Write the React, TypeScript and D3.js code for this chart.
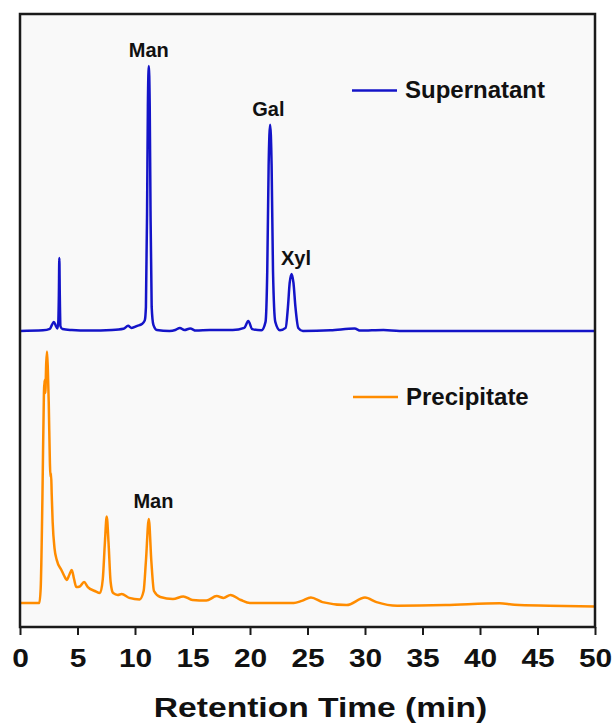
import React, { useRef, useEffect } from "react";
import * as d3 from "d3";

// retention time (min), intensity (a.u.)
const supernatant: [number, number][] = [
  [0, 0], [2.0, 0.2], [2.6, 0.7], [2.8, 2.2], [2.95, 3], [3.1, 1.8], [3.25, 0.8],
  [3.33, 3], [3.38, 12], [3.42, 24.3], [3.46, 12], [3.52, 1.5], [3.7, 0.6],
  [4.5, 0.3], [6, 0.1], [8, 0.3], [9, 0.7], [9.4, 1.7], [9.7, 1], [10.2, 1.7],
  [10.6, 2.3], [10.85, 3.5], [10.95, 8], [11.05, 40], [11.12, 75], [11.2, 88.3],
  [11.28, 75], [11.35, 40], [11.45, 8], [11.6, 2], [11.9, 0.3], [13, 0],
  [13.5, 0.3], [13.9, 1], [14.3, 0.3], [14.8, 0.8], [15.3, 0.1], [16.5, 0.3],
  [18.5, 0.3], [19.5, 1], [19.85, 3.3], [20.2, 0.6], [21.0, 0.2], [21.35, 3],
  [21.5, 20], [21.62, 55], [21.75, 68.7], [21.88, 55], [22.0, 20], [22.2, 3],
  [22.6, 0.2], [23.1, 1], [23.3, 8], [23.45, 16], [23.62, 19], [23.78, 16],
  [23.95, 8], [24.2, 1], [24.6, 0], [27, 0.2], [29.1, 0.8], [29.6, 0.1],
  [31.6, 0.3], [33, 0], [50, 0],
];

const precipitate: [number, number][] = [
  [0, 0], [1.68, 0], [1.8, 5], [1.95, 35], [2.08, 70], [2.13, 74.3], [2.2, 70],
  [2.28, 80], [2.35, 83.8], [2.42, 78], [2.5, 66.7], [2.6, 46.7], [2.65, 42],
  [2.7, 43.3], [2.76, 36], [2.84, 27], [3.0, 18.3], [3.2, 14.3], [3.6, 11],
  [3.85, 9], [4.06, 7.7], [4.3, 9.5], [4.5, 11], [4.7, 8], [4.9, 5.3],
  [5.2, 5.5], [5.57, 7], [5.9, 5.3], [6.5, 4], [6.96, 3.3], [7.2, 8],
  [7.38, 20], [7.54, 28.8], [7.7, 20], [7.88, 7], [8.1, 3.3], [8.5, 2.7],
  [8.84, 3], [9.5, 1.7], [10.4, 1.2], [10.75, 4], [10.95, 14], [11.2, 28],
  [11.42, 14], [11.65, 4], [12.2, 2], [13.3, 1.3], [14.2, 2.2], [15, 1],
  [16.2, 0.8], [17.1, 2.3], [17.7, 1.7], [18.3, 2.7], [19.2, 1], [20, 0],
  [23.8, 0], [24.5, 0.7], [25.3, 1.8], [26.3, 0.3], [28.4, -0.7], [30, 1.8],
  [31, 0.3], [32.8, -0.9], [37, -0.7], [41.7, -0.1], [43, -0.6], [46, -0.9],
  [50, -1.2],
];

// vertical stacking offset of the supernatant trace
const SUPER_OFFSET = 90.7;

const supernatantPeaks: [string, number, number][] = [
  ["Man", 11.2, 88.3],
  ["Gal", 21.6, 68.7],
  ["Xyl", 24.0, 19],
];
const precipitatePeaks: [string, number, number][] = [["Man", 11.6, 28.8]];

const seriesNames = ["Supernatant", "Precipitate"];
const seriesColors = ["#1414c8", "#ff8c00"];

const xTicks = d3.range(0, 51, 5);
const xMinorTicks = d3.range(2.5, 50, 5);

const App = () => {
  const svgRef = useRef<SVGSVGElement>(null);

  useEffect(() => {
    const width = 614;
    const height = 723;
    const margin = { top: 14, right: 19, bottom: 96, left: 20 };
    const plotW = width - margin.left - margin.right;
    const plotH = height - margin.top - margin.bottom;

    const svg = d3.select(svgRef.current);
    svg.selectAll("*").remove();
    svg.attr("width", width).attr("height", height);

    const x = d3.scaleLinear().domain([0, 50]).range([margin.left, margin.left + plotW]);
    const y = d3.scaleLinear().domain([-8, 196.33]).range([margin.top + plotH, margin.top]);

    svg.append("defs").append("clipPath").attr("id", "plotclip")
      .append("rect")
      .attr("x", margin.left).attr("y", margin.top)
      .attr("width", plotW).attr("height", plotH);

    svg.append("rect")
      .attr("x", margin.left).attr("y", margin.top)
      .attr("width", plotW).attr("height", plotH)
      .attr("fill", "#f9f9f9");

    const line = d3.line<[number, number]>()
      .x(d => x(d[0]))
      .y(d => y(d[1]))
      .curve(d3.curveMonotoneX);

    const traces = svg.append("g").attr("clip-path", "url(#plotclip)");
    traces.append("path")
      .datum(supernatant.map(d => [d[0], d[1] + SUPER_OFFSET] as [number, number]))
      .attr("d", line)
      .attr("fill", "none")
      .attr("stroke", seriesColors[0])
      .attr("stroke-width", 2.5)
      .attr("stroke-linejoin", "round");
    traces.append("path")
      .datum(precipitate)
      .attr("d", line)
      .attr("fill", "none")
      .attr("stroke", seriesColors[1])
      .attr("stroke-width", 2.5)
      .attr("stroke-linejoin", "round");

    // peak labels
    const labelFont = "'Liberation Sans', Arial, sans-serif";
    const addLabel = (txt: string, t: number, v: number) => {
      svg.append("text")
        .attr("x", x(t)).attr("y", y(v) - 9)
        .attr("text-anchor", "middle")
        .attr("font-family", labelFont)
        .attr("font-weight", "bold")
        .attr("font-size", 20)
        .attr("fill", "#111")
        .text(txt);
    };
    supernatantPeaks.forEach(([n, t, v]) => addLabel(n, t, v + SUPER_OFFSET));
    precipitatePeaks.forEach(([n, t, v]) => addLabel(n, t, v));

    // legends
    const legendPos = [[352, 90.5], [353, 397]];
    seriesNames.forEach((name, i) => {
      const [lx, ly] = legendPos[i];
      svg.append("line")
        .attr("x1", lx).attr("x2", lx + 45)
        .attr("y1", ly).attr("y2", ly)
        .attr("stroke", seriesColors[i])
        .attr("stroke-width", 2.5);
      svg.append("text")
        .attr("x", lx + 53).attr("y", ly + 7.5)
        .attr("font-family", labelFont)
        .attr("font-weight", "bold")
        .attr("font-size", 24)
        .attr("fill", "#111")
        .text(name);
    });

    // bottom axis
    const axisY = margin.top + plotH;
    const axis = svg.append("g").attr("transform", `translate(0,${axisY})`);
    axis.call(d3.axisBottom(x).tickValues(xMinorTicks).tickSize(5).tickFormat(() => ""));
    axis.call(d3.axisBottom(x).tickValues(xTicks).tickSize(8).tickFormat(d3.format("d")));
    axis.select(".domain").remove();
    axis.selectAll("line").attr("stroke", "#1a1a1a").attr("stroke-width", 2);
    axis.selectAll("text")
      .attr("y", 40)
      .attr("dy", null)
      .attr("transform", "scale(1.15,1)")
      .attr("font-family", labelFont)
      .attr("font-weight", "bold")
      .attr("font-size", 26)
      .attr("fill", "#111");

    // frame
    svg.append("rect")
      .attr("x", margin.left).attr("y", margin.top)
      .attr("width", plotW).attr("height", plotH)
      .attr("fill", "none")
      .attr("stroke", "#1a1a1a")
      .attr("stroke-width", 2.5);

    svg.append("text")
      .attr("transform", `translate(320.5,717) scale(1.2,1)`)
      .attr("text-anchor", "middle")
      .attr("font-family", labelFont)
      .attr("font-weight", "bold")
      .attr("font-size", 28)
      .attr("fill", "#111")
      .text("Retention Time (min)");
  }, []);

  return (
    <svg
      ref={svgRef}
      style={{ position: "absolute", left: 0, top: 0, background: "#fff" }}
    />
  );
};

export default App;
